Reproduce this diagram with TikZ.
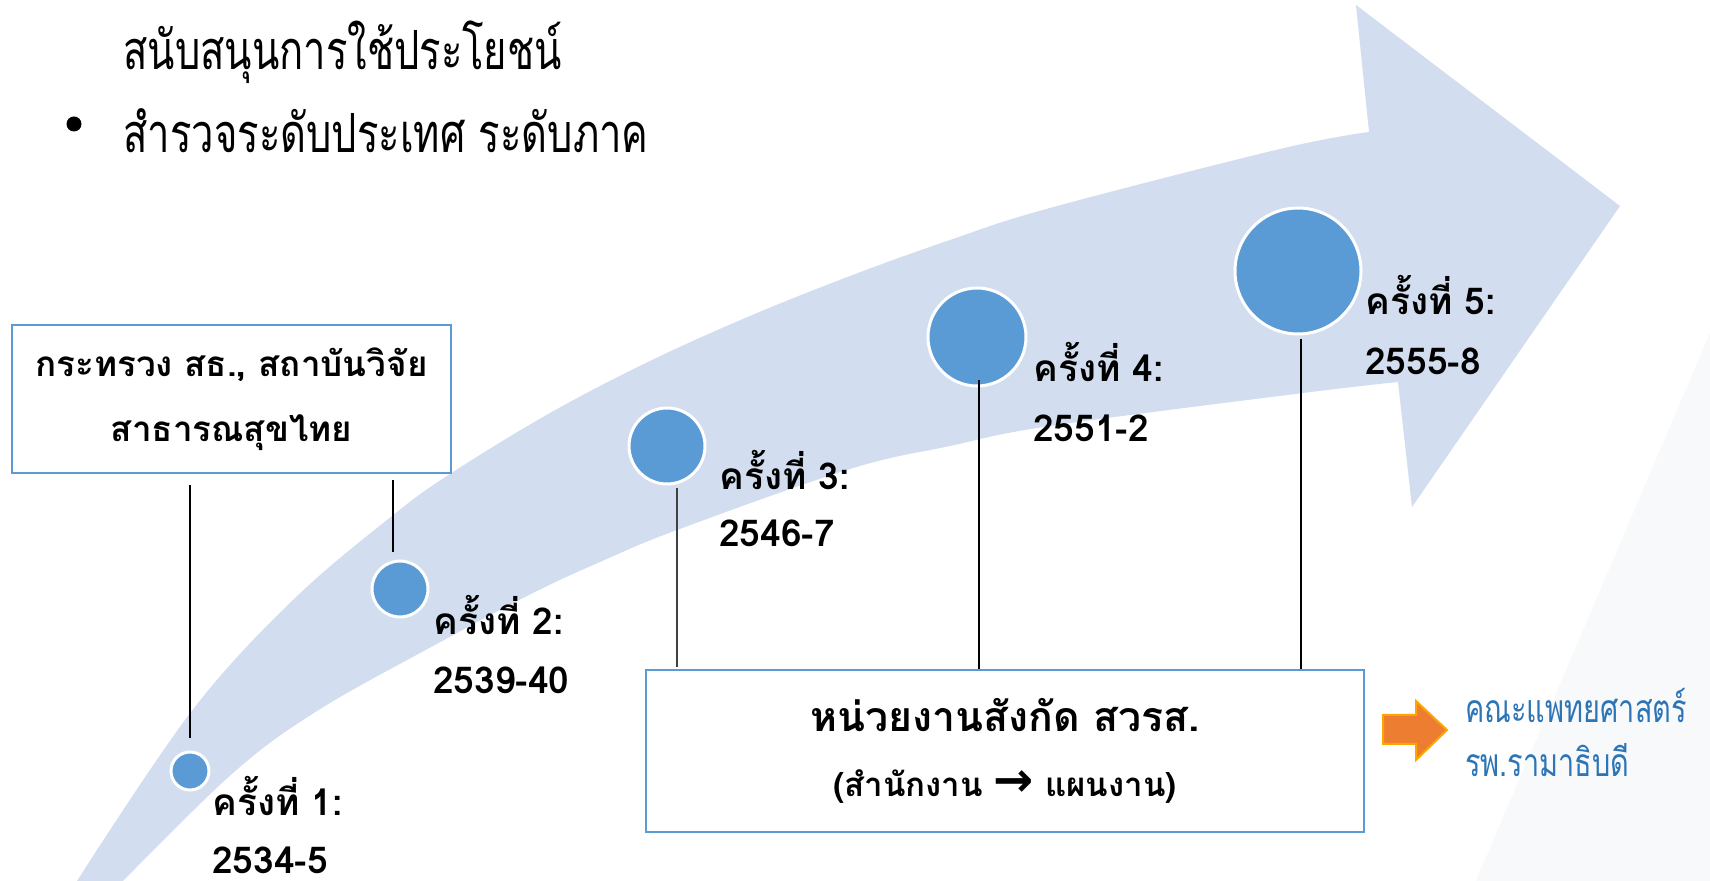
\documentclass[tikz,border=0pt]{standalone}
\usepackage{fontspec}
\newfontfamily\thai[Script=Thai]{Loma}
\newfontfamily\thaic[Script=Thai,FakeStretch=0.74]{Loma}
\newfontfamily\dejavu{DejaVu Sans}
\definecolor{band}{RGB}{210,222,239}
\definecolor{circ}{RGB}{91,155,213}
\definecolor{boxline}{RGB}{91,155,213}
\definecolor{orfill}{RGB}{237,125,49}
\definecolor{orline}{RGB}{255,165,0}
\definecolor{bluetxt}{RGB}{46,117,182}
\definecolor{faint}{RGB}{248,249,250}
\begin{document}
\begin{tikzpicture}[x=0.5pt,y=-0.5pt,
  dot/.style={circle,fill=circ,draw=white,line width=1.5pt,inner sep=0pt},
  lbl/.style={anchor=base west,inner sep=0pt,font=\thai\bfseries\fontsize{18.5}{22}\selectfont},
  conn/.style={draw=black,line width=0.6pt},
  infobox/.style={draw=boxline,line width=0.8pt,fill=white,align=center,inner sep=0pt},
  toptext/.style={anchor=base west,inner sep=0pt,font=\thaic\fontsize{27}{30}\selectfont},
  bluetext/.style={anchor=base west,inner sep=0pt,text=bluetxt,font=\thaic\fontsize{19.5}{22}\selectfont}]
\useasboundingbox (0,0) rectangle (1710,881);
\fill[white] (0,0) rectangle (1710,881);
\fill[faint] (1710,333) -- (1476,881) -- (1710,881) -- cycle;
\fill[band] (77,881) -- plot[smooth,tension=0.6] coordinates {(77,881) (191,712) (293,600) (392,516) (450,474) (550,413) (650,361) (750,316) (850,276) (950,240) (1050,208) (1280,149) (1369,132)} -- (1356,5) -- (1620,206) -- (1412,507) -- (1398,382) -- plot[smooth,tension=0.6] coordinates {(1398,382) (1303,393) (1050,426) (950,446) (850,469) (677,530) (600,562) (533,593) (433,646) (317,711) (233,773) (123,881)} -- cycle;

% top text
\node[circle,fill=black,minimum size=7.5pt,inner sep=0pt] (bul) at (74,124) {};
\node[toptext] (t1) at (123,70) {สนับสนุนการใช้ประโยชน์};
\node[toptext] (t2) at (123,153) {สำรวจระดับประเทศ ระดับภาค};

% boxes
\node[infobox,minimum width=219.5pt,minimum height=74pt,font=\thai\bfseries\fontsize{17.5}{32.5}\selectfont] (b1) at (231.5,399) {กระทรวง สธ., สถาบันวิจัย\\สาธารณสุขไทย};
\node[infobox,minimum width=359pt,minimum height=81pt,font=\thai\bfseries\fontsize{20.5}{32.5}\selectfont] (b2) at (1005,751) {หน่วยงานสังกัด สวรส.\\{\fontsize{16.5}{32.5}\selectfont (สำนักงาน {\dejavu\bfseries\fontsize{24}{22}\selectfont →} แผนงาน)}};

% circles
\node[dot,minimum size=19pt] (c1) at (190,771) {};
\node[dot,minimum size=28pt] (c2) at (400,589) {};
\node[dot,minimum size=38pt] (c3) at (667,446) {};
\node[dot,minimum size=49pt] (c4) at (977,337) {};
\node[dot,minimum size=63pt] (c5) at (1298,271) {};

% connectors
\draw[conn,shorten <=5.5pt,shorten >=6pt] (b1.south -| c1.north) -- (c1.north);
\draw[conn,shorten <=3pt,shorten >=3.5pt] ([xshift=-3.5pt]b1.south -| c2.north) -- ([xshift=-3.5pt]c2.north);
\draw[conn,draw=black!75,shorten <=1.5pt,shorten >=1pt] ([xshift=5pt]c3.south) -- ([xshift=5pt]c3.south |- b2.north);
\draw[conn,shorten <=-3.5pt] ([xshift=1pt]c4.south) -- ([xshift=1pt]c4.south |- b2.north);
\draw[conn,shorten <=2pt] ([xshift=1.5pt]c5.south) -- ([xshift=1.5pt]c5.south |- b2.north);

% labels
\node[lbl] (l1a) at (212,816) {ครั้งที่ 1:};
\node[lbl] (l1b) at (212,874) {2534-5};
\node[lbl] (l2a) at (433,635) {ครั้งที่ 2:};
\node[lbl] (l2b) at (433,694) {2539-40};
\node[lbl] (l3a) at (719,490) {ครั้งที่ 3:};
\node[lbl] (l3b) at (719,547) {2546-7};
\node[lbl] (l4a) at (1033,382) {ครั้งที่ 4:};
\node[lbl] (l4b) at (1033,442) {2551-2};
\node[lbl] (l5a) at (1365,315) {ครั้งที่ 5:};
\node[lbl] (l5b) at (1365,375) {2555-8};

% orange arrow and right text
\filldraw[fill=orfill,draw=orline,line width=1pt,line join=miter] (1383,715) -- (1416,715) -- (1416,701) -- (1447,730) -- (1416,760) -- (1416,744) -- (1383,744) -- cycle;
\node[bluetext] (r1) at (1465,723) {คณะแพทยศาสตร์};
\node[bluetext] (r2) at (1465,777) {รพ.รามาธิบดี};
\end{tikzpicture}
\end{document}
